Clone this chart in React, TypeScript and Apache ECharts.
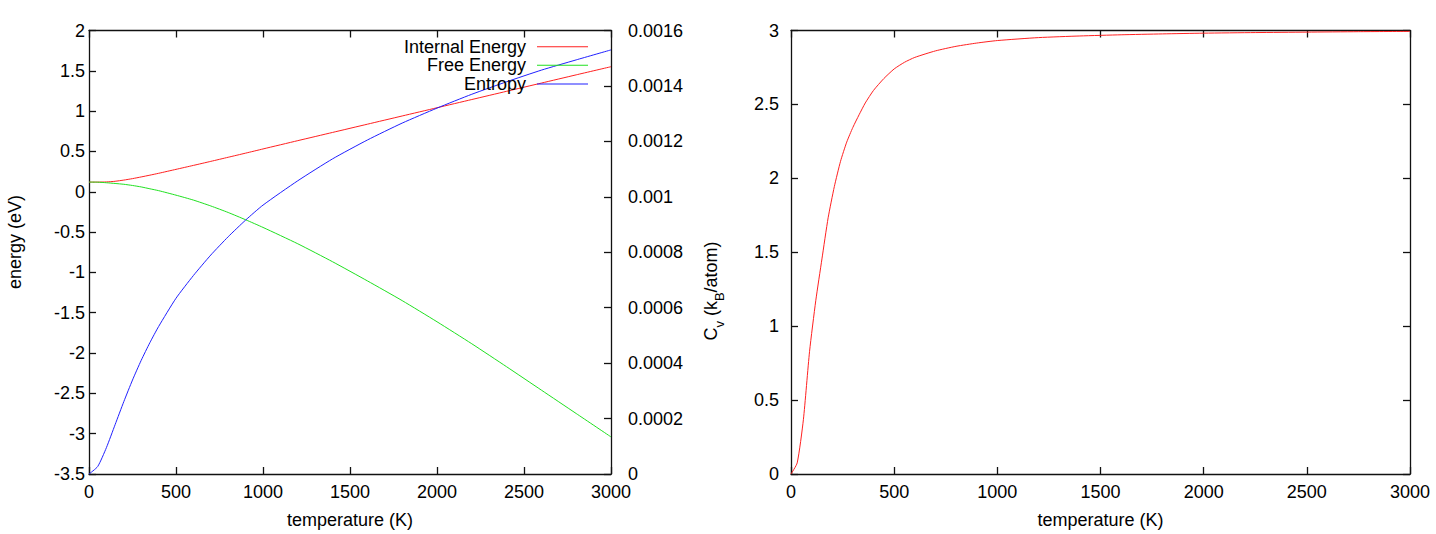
import React, { useEffect, useRef } from "react";
import * as echarts from "echarts";

const FONT = '"Liberation Sans", Arial, Helvetica, sans-serif';

// Thermodynamic functions vs temperature (left panel)
const temperatures = [0, 50, 100, 150, 200, 250, 300, 350, 400, 500, 600, 700, 800, 900, 1000, 1200, 1400, 1600, 1800, 2000, 2200, 2400, 2600, 2800, 3000];
const internalEnergy = [0.12, 0.12, 0.122, 0.13, 0.145, 0.163, 0.184, 0.206, 0.229, 0.278, 0.327, 0.377, 0.428, 0.479, 0.531, 0.634, 0.736, 0.838, 0.94, 1.042, 1.144, 1.246, 1.348, 1.45, 1.551];
const freeEnergy = [0.12, 0.119, 0.112, 0.103, 0.093, 0.078, 0.06, 0.037, 0.014, -0.042, -0.103, -0.176, -0.257, -0.347, -0.442, -0.645, -0.868, -1.105, -1.35, -1.612, -1.885, -2.17, -2.46, -2.75, -3.04];
const entropy = [0, 0.000027, 0.000095, 0.000178, 0.000261, 0.000339, 0.00041, 0.000474, 0.000532, 0.000634, 0.000716, 0.00079, 0.000856, 0.000916, 0.00097, 0.001058, 0.001137, 0.001205, 0.001266, 0.00132, 0.00137, 0.001415, 0.001457, 0.001494, 0.00153];

// Heat capacity vs temperature (right panel)
const cvTemperatures = [0, 30, 60, 90, 120, 150, 180, 210, 240, 270, 300, 330, 360, 400, 450, 500, 550, 600, 700, 800, 900, 1000, 1200, 1400, 1600, 1800, 2000, 2250, 2500, 2750, 3000];
const heatCapacity = [0, 0.075, 0.367, 0.83, 1.172, 1.455, 1.733, 1.944, 2.115, 2.245, 2.345, 2.43, 2.51, 2.595, 2.675, 2.74, 2.785, 2.818, 2.862, 2.893, 2.915, 2.932, 2.952, 2.963, 2.971, 2.977, 2.982, 2.986, 2.989, 2.992, 2.994];

const temperatureAxis = { min: 0, max: 3000, interval: 500 };
const energyAxis = { min: -3.5, max: 2, interval: 0.5 };
const entropyAxis = { min: 0, max: 0.0016, interval: 0.0002 };
const cvAxis = { min: 0, max: 3, interval: 0.5 };

const seriesNames = ["Internal Energy", "Free Energy", "Entropy"];
const seriesColors = ["#ff2020", "#20e020", "#2020ff"];

const AXIS_COLOR = "#111";
const textStyle = { fontFamily: FONT, fontSize: 18, color: "#000" };
const plain = (v: number) => String(parseFloat(v.toFixed(6)));

function frameAxis(extra: any) {
  return {
    axisLine: { show: true, onZero: false, lineStyle: { color: AXIS_COLOR, width: 1.3 } },
    axisTick: { show: true, inside: true, length: 7, lineStyle: { color: AXIS_COLOR, width: 1.3 } },
    splitLine: { show: false },
    ...extra,
  };
}

function pairs(xs: number[], ys: number[]) {
  return xs.map((x, i) => [x, ys[i]]);
}

function curve(name: string, color: string, xi: number, yi: number, data: number[][]) {
  return {
    name,
    type: "line",
    xAxisIndex: xi,
    yAxisIndex: yi,
    data,
    symbol: "none",
    smooth: 0.2,
    lineStyle: { color, width: 1 },
    itemStyle: { color },
  };
}

export default function App() {
  const ref = useRef<HTMLDivElement>(null);

  useEffect(() => {
    if (!ref.current) return;
    const chart = echarts.init(ref.current, null, { renderer: "svg" });

    const legendRows = [46.7, 65.2, 83.9];

    const option: any = {
      animation: false,
      backgroundColor: "#fff",
      textStyle: { fontFamily: FONT },
      grid: [
        { left: 89, top: 30.5, width: 522, height: 443.5 },
        { left: 791, top: 30.5, width: 619, height: 443.5 },
      ],
      legend: seriesNames.map((name, i) => ({
        data: [name],
        orient: "horizontal",
        align: "right",
        right: 848,
        top: legendRows[i] - 9,
        padding: 0,
        icon: "rect",
        itemWidth: 51,
        itemHeight: 1,
        selectedMode: false,
        textStyle: { ...textStyle, lineHeight: 18, padding: [0, 6, 0, 0] },
      })),
      xAxis: [
        frameAxis({
          type: "value",
          gridIndex: 0,
          position: "bottom",
          ...temperatureAxis,
          name: "temperature (K)",
          nameLocation: "middle",
          nameGap: 37,
          nameTextStyle: textStyle,
          axisLabel: { ...textStyle, margin: 9, formatter: plain },
        }),
        frameAxis({
          type: "value",
          gridIndex: 0,
          position: "top",
          ...temperatureAxis,
          axisLabel: { show: false },
        }),
        frameAxis({
          type: "value",
          gridIndex: 1,
          position: "bottom",
          ...temperatureAxis,
          name: "temperature (K)",
          nameLocation: "middle",
          nameGap: 37,
          nameTextStyle: textStyle,
          axisLabel: { ...textStyle, margin: 9, formatter: plain },
        }),
        frameAxis({
          type: "value",
          gridIndex: 1,
          position: "top",
          ...temperatureAxis,
          axisLabel: { show: false },
        }),
      ],
      yAxis: [
        frameAxis({
          type: "value",
          gridIndex: 0,
          position: "left",
          ...energyAxis,
          axisLabel: { ...textStyle, margin: 4, formatter: plain },
        }),
        frameAxis({
          type: "value",
          gridIndex: 0,
          position: "right",
          ...entropyAxis,
          axisLabel: { ...textStyle, margin: 17, formatter: (v: number) => (v === 0 ? "0" : String(parseFloat(v.toFixed(4)))) },
        }),
        frameAxis({
          type: "value",
          gridIndex: 1,
          position: "left",
          ...cvAxis,
          axisLabel: { ...textStyle, margin: 12, formatter: plain },
        }),
        frameAxis({
          type: "value",
          gridIndex: 1,
          position: "right",
          ...cvAxis,
          axisLabel: { show: false },
        }),
      ],
      graphic: [
        {
          type: "text",
          x: 15,
          y: 242,
          rotation: Math.PI / 2,
          style: {
            text: "energy (eV)",
            font: `18px ${FONT}`,
            fill: "#000",
            align: "center",
            verticalAlign: "middle",
          },
        },
        {
          type: "text",
          x: 714,
          y: 291,
          rotation: Math.PI / 2,
          style: {
            text: "{n|C}{s|v}{n| (k}{s|B}{n|/atom)}",
            fill: "#000",
            align: "center",
            verticalAlign: "middle",
            rich: {
              n: { fontFamily: FONT, fontSize: 18, lineHeight: 24, verticalAlign: "top", fill: "#000" },
              s: { fontFamily: FONT, fontSize: 13, lineHeight: 13, verticalAlign: "bottom", fill: "#000" },
            },
          },
        },
      ],
      series: [
        curve(seriesNames[0], seriesColors[0], 0, 0, pairs(temperatures, internalEnergy)),
        curve(seriesNames[1], seriesColors[1], 0, 0, pairs(temperatures, freeEnergy)),
        curve(seriesNames[2], seriesColors[2], 0, 1, pairs(temperatures, entropy)),
        curve("Cv", "#ff2020", 2, 2, pairs(cvTemperatures, heatCapacity)),
      ],
    };

    chart.setOption(option);
    return () => chart.dispose();
  }, []);

  return (
    <div
      ref={ref}
      style={{ position: "absolute", left: 0, top: 0, width: 1436, height: 534, background: "#fff" }}
    />
  );
}
